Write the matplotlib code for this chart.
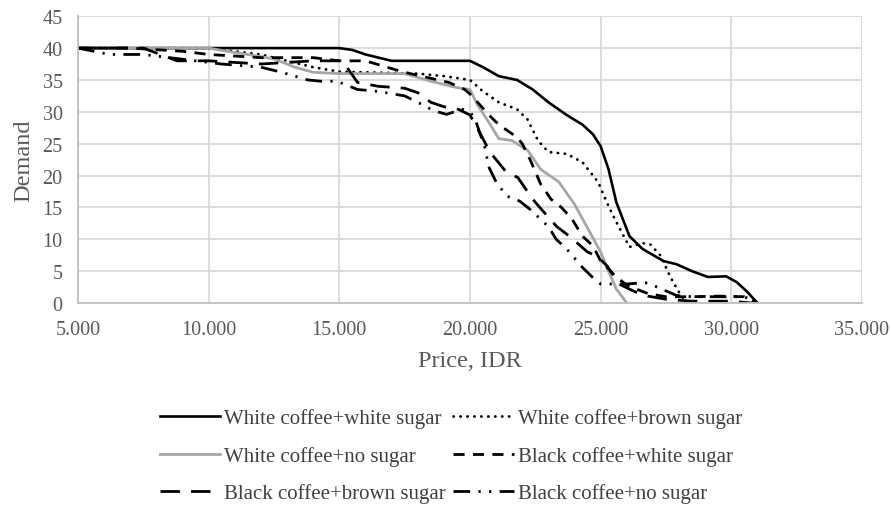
import numpy as np
import matplotlib
matplotlib.use("Agg")
import matplotlib.pyplot as plt
from matplotlib.ticker import FuncFormatter, MultipleLocator

# values (price in IDR, demand)
wcws_price = [5000, 10000, 15000, 15500, 16000, 17000, 18000, 19000, 20000, 20500, 21100, 21800,
              22400, 23000, 23700, 24300, 24700, 25000, 25300, 25600, 26100, 26600, 27400, 27900,
              28500, 29100, 29800, 30200, 30600, 31000]
wcws_demand = [40, 40, 40, 39.7, 39, 38, 38, 38, 38, 37, 35.6, 35,
               33.5, 31.5, 29.5, 28, 26.5, 24.6, 21, 15.8, 10.5, 8.5, 6.6, 6.1,
               5, 4.1, 4.2, 3.3, 1.8, 0]

wcbs_price = [5000, 8000, 10000, 11000, 12000, 13000, 14000, 15000, 16000, 18000, 19000, 20000,
              20500, 21100, 21800, 22200, 22600, 23000, 23700, 24300, 24900, 25300, 25600, 26100,
              26600, 26900, 27300, 27650, 28000, 28300]
wcbs_demand = [40, 40, 40, 39.5, 39, 38, 37, 36.3, 36.2, 36, 35.6, 35,
               33.2, 31.5, 30.4, 28.8, 25.5, 23.7, 23.4, 22.1, 19, 15.2, 12.7, 8.8,
               9.4, 9.2, 7.4, 4.2, 1.7, 0]

wcns_price = [5000, 10000, 10700, 11500, 12500, 13300, 14000, 15000, 17500, 18500, 19500, 20000,
              20300, 20700, 21100, 21600, 22200, 22700, 23400, 24000, 24600, 25000, 25300, 25600, 26000]
wcns_demand = [40, 40, 39.5, 39, 38.3, 37, 36.2, 36, 36, 34.8, 33.8, 33.5,
               31, 28.5, 25.8, 25.5, 24, 21, 19, 15.5, 11, 8, 5, 2.2, 0]

bcws_price = [5000, 7000, 9000, 10000, 12000, 14000, 15000, 16000, 17400, 19200, 19800, 20000,
              20400, 20700, 21100, 21800, 22000, 22300, 22700, 23100, 23500, 23900, 24300, 24700,
              25000, 25600, 26000, 26800, 27500, 28500, 29500, 30500, 31000]
bcws_demand = [40, 40, 39.5, 39, 38.5, 38.5, 38, 38, 36.3, 34.6, 33.5, 32.8,
               31, 29.6, 28, 26, 25, 22.5, 18.7, 16.3, 15, 13.2, 10.5, 9,
               6.6, 4.1, 2.8, 1.5, 1, 1, 1.1, 1, 0]

bcbs_price = [5000, 6000, 7500, 8800, 10000, 12000, 14000, 15000, 15200, 15700, 16500, 17500,
              18000, 18500, 19000, 19500, 20000, 20300, 20570, 20760, 21400, 21830, 22400, 22670,
              23320, 23800, 24500, 24850, 25250, 25700, 26300, 26800, 27500, 28500, 30000, 30800]
bcbs_demand = [40, 40, 40, 38, 38, 37.5, 38, 38, 37.5, 34.6, 34, 33.7,
               33, 31.5, 30.8, 30.5, 29.5, 27.3, 25.2, 23.7, 20.5, 19.7, 16.3, 15,
               12, 10.5, 8, 7.4, 5.8, 3, 1.8, 1.1, 0.6, 0.3, 0.3, 0]

bcns_price = [5000, 6200, 7500, 8500, 9500, 10500, 12000, 12800, 13800, 14300, 14900, 15700,
              16500, 17500, 18000, 18600, 19100, 19700, 20000, 20200, 20600, 20700, 21000, 21400,
              21900, 22300, 23000, 23300, 23700, 24300, 24700, 25000, 26000, 26700, 27000, 27900,
              28500, 30500, 31000]
bcns_demand = [40, 39, 39, 38.5, 38, 37.5, 37, 36.2, 35, 34.8, 34.8, 33.5,
               33.2, 32.5, 31.5, 30.2, 29.6, 30.4, 30, 28.8, 24, 21.5, 19, 16.8,
               16, 14.7, 12, 10, 8.5, 5.6, 4, 3, 3, 3.2, 2.8, 1.2,
               1, 1, 0]

labels = ["White coffee+white sugar", "White coffee+brown sugar",
          "White coffee+no sugar", "Black coffee+white sugar",
          "Black coffee+brown sugar", "Black coffee+no sugar"]

plt.rcParams['font.family'] = ['Liberation Serif', 'DejaVu Serif']

fig = plt.figure(figsize=(8.91, 5.06), dpi=100)
ax = fig.add_axes([0.0875, 0.399, 0.88, 0.567])

h1, = ax.plot(wcws_price, wcws_demand, color='black', lw=1.9, solid_joinstyle='round')
h2, = ax.plot(wcbs_price, wcbs_demand, color='black', lw=2.0, linestyle=(0, (0.1, 2.4)),
              dash_capstyle='round')
h3, = ax.plot(wcns_price, wcns_demand, color='#a6a6a6', lw=2.0, solid_joinstyle='round')
h4, = ax.plot(bcws_price, bcws_demand, color='black', lw=2.0, linestyle=(0, (4, 3)))
h5, = ax.plot(bcbs_price, bcbs_demand, color='black', lw=2.0, linestyle=(0, (7, 4)))
h6, = ax.plot(bcns_price, bcns_demand, color='black', lw=2.0,
              linestyle=(0, (6, 3, 0.8, 3, 0.8, 3)))

ax.set_xlim(5000, 35000)
ax.set_ylim(0, 45)
ax.xaxis.set_major_locator(MultipleLocator(5000))
ax.yaxis.set_major_locator(MultipleLocator(5))
ax.xaxis.set_major_formatter(FuncFormatter(lambda v, p: f"{v:,.0f}".replace(',', '.')))
ax.grid(True, color='#d9d9d9', lw=1.3)
ax.set_axisbelow(True)
for s in ['top', 'right']:
    ax.spines[s].set_visible(False)
for s in ['left', 'bottom']:
    ax.spines[s].set_color('#bfbfbf')
    ax.spines[s].set_linewidth(1.3)
ax.tick_params(length=0, labelsize=14.5, colors='#595959')
ax.tick_params(axis='x', pad=12)
ax.tick_params(axis='y', pad=11)

ax.set_xlabel("Price, IDR", fontsize=17.5, color='#595959', labelpad=8)
ax.set_ylabel("Demand", fontsize=17.5, color='#595959', labelpad=6)

# column-first fill, so reorder to get the row layout of the reference
handles = [h1, h3, h5, h2, h4, h6]
order = [labels[0], labels[2], labels[4], labels[1], labels[3], labels[5]]
leg = fig.legend(handles, order, ncol=2, loc='center', bbox_to_anchor=(0.506, 0.097),
                 frameon=False, fontsize=15, handlelength=2.9, handletextpad=0.2,
                 columnspacing=0.35, labelspacing=0.85)
for t in leg.get_texts():
    t.set_color('#404040')

fig.savefig("out.png", dpi=100)
